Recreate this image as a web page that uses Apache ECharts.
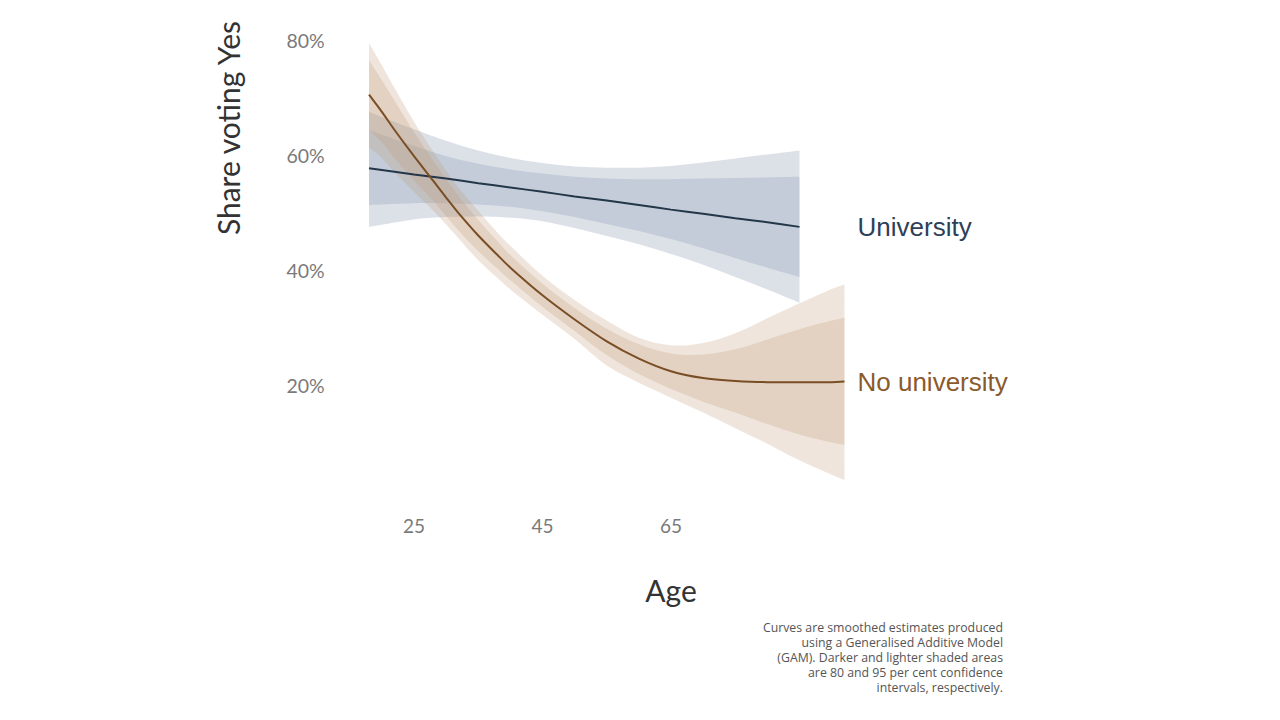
<!DOCTYPE html>
<html>
<head>
<meta charset="utf-8">
<script src="https://cdn.jsdelivr.net/npm/echarts@6/dist/echarts.min.js"></script>
<style>
html,body{margin:0;padding:0;background:#fff;}
#chart{width:1280px;height:720px;}
</style>
</head>
<body>
<div id="chart"></div>
<script>
// ---- data ----
const xTicks = [25, 45, 65];
const yTicks = [20, 40, 60, 80];

const uAge  = [18, 25, 30, 35, 40, 45, 50, 55, 60, 65, 70, 75, 80, 85];
const uFit  = [57.7, 56.6, 55.9, 55.1, 54.35, 53.6, 52.8, 52.1, 51.3, 50.5, 49.8, 49.0, 48.3, 47.5];
const uHi95 = [67.5, 64.5, 62.5, 60.8, 59.5, 58.6, 58.0, 57.8, 57.8, 58.1, 58.7, 59.4, 60.1, 60.8];
const uHi80 = [64.3, 61.6, 59.8, 58.5, 57.5, 56.8, 56.2, 55.9, 55.8, 55.8, 55.9, 56.0, 56.1, 56.2];
const uLo80 = [51.3, 51.6, 51.6, 51.4, 51.0, 50.2, 49.2, 48.0, 46.8, 45.4, 43.8, 42.1, 40.4, 38.8];
const uLo95 = [47.5, 48.8, 49.2, 49.3, 49.1, 48.5, 47.3, 45.9, 44.5, 42.8, 40.9, 38.8, 36.6, 34.3];

const nAge  = [18, 20, 22, 25, 28, 30, 32, 35, 38, 40, 45, 50, 55, 60, 65, 70, 75, 80, 85, 90, 92];
const nFit  = [70.5, 67.5, 64.3, 59.8, 55.5, 52.6, 49.8, 46.0, 42.6, 40.4, 35.6, 31.4, 27.6, 24.6, 22.4, 21.2, 20.7, 20.5, 20.5, 20.5, 20.6];
const nHi95 = [79.5, 75.6, 71.6, 65.8, 60.6, 57.3, 54.2, 50.3, 46.5, 44.2, 39.0, 34.8, 31.2, 28.2, 26.9, 27.3, 29.0, 31.6, 34.2, 36.7, 37.5];
const nHi80 = [76.5, 73.0, 69.4, 64.0, 59.0, 55.8, 52.8, 48.7, 45.0, 42.6, 37.6, 33.4, 29.8, 27.1, 25.5, 25.3, 26.2, 27.9, 29.7, 31.2, 31.7];
const nLo80 = [64.3, 62.2, 59.4, 55.6, 52.0, 49.4, 46.8, 43.3, 40.2, 38.2, 33.6, 29.4, 25.2, 21.9, 19.3, 17.1, 15.2, 13.2, 11.4, 10.0, 9.6];
const nLo95 = [61.3, 59.5, 57.0, 53.6, 50.3, 47.9, 45.4, 41.7, 38.6, 36.6, 32.2, 28.0, 23.4, 20.4, 17.8, 15.2, 12.5, 9.8, 6.9, 4.4, 3.5];

const footnote = 'Curves are smoothed estimates produced\nusing a Generalised Additive Model\n(GAM). Darker and lighter shaded areas\nare 80 and 95 per cent confidence\nintervals, respectively.';

// ---- helpers ----
function pairs(xs, ys) { return xs.map((x, i) => [x, ys[i]]); }

function smoothSeg(pts, start) {
  let d = (start ? 'M' : 'L') + pts[0][0] + ',' + pts[0][1];
  const n = pts.length;
  for (let i = 0; i < n - 1; i++) {
    const p0 = pts[Math.max(i - 1, 0)], p1 = pts[i], p2 = pts[i + 1], p3 = pts[Math.min(i + 2, n - 1)];
    const c1 = [p1[0] + (p2[0] - p0[0]) / 6, p1[1] + (p2[1] - p0[1]) / 6];
    const c2 = [p2[0] - (p3[0] - p1[0]) / 6, p2[1] - (p3[1] - p1[1]) / 6];
    d += 'C' + c1[0] + ',' + c1[1] + ' ' + c2[0] + ',' + c2[1] + ' ' + p2[0] + ',' + p2[1];
  }
  return d;
}

function bandSeries(name, ages, hi, lo, fill) {
  return {
    type: 'custom',
    name: name,
    silent: true,
    data: [[ages[0], lo[0]]],
    renderItem: function (params, api) {
      const top = ages.map((a, i) => api.coord([a, hi[i]]));
      const bot = ages.map((a, i) => api.coord([a, lo[i]])).reverse();
      const d = smoothSeg(top, true) + smoothSeg(bot, false) + 'Z';
      return { type: 'path', shape: { pathData: d }, style: { fill: fill } };
    }
  };
}

const blueFill = 'rgba(139,156,180,0.30)';
const brownFill = 'rgba(191,151,115,0.25)';

const chart = echarts.init(document.getElementById('chart'), null, { renderer: 'svg' });

chart.setOption({
  animation: false,
  backgroundColor: '#ffffff',
  grid: { left: 349.75, top: 40, width: 514, height: 460, containLabel: false },
  xAxis: {
    type: 'value', min: 15, max: 95, interval: 5,
    axisLine: { show: false }, axisTick: { show: false }, splitLine: { show: false },
    axisLabel: {
      margin: 16, color: '#7a7a7a', fontSize: 19, fontFamily: 'Lato',
      formatter: v => (xTicks.indexOf(v) >= 0 ? String(v) : '')
    }
  },
  yAxis: {
    type: 'value', min: 0, max: 80, interval: 20,
    axisLine: { show: false }, axisTick: { show: false }, splitLine: { show: false },
    axisLabel: {
      margin: 25, color: '#7a7a7a', fontSize: 19.5, fontFamily: 'Lato',
      formatter: v => (yTicks.indexOf(v) >= 0 ? v + '%' : '')
    }
  },
  series: [
    bandSeries('u95', uAge, uHi95, uLo95, blueFill),
    bandSeries('u80', uAge, uHi80, uLo80, blueFill),
    bandSeries('n95', nAge, nHi95, nLo95, brownFill),
    bandSeries('n80', nAge, nHi80, nLo80, brownFill),
    {
      type: 'line', name: 'University', data: pairs(uAge, uFit), smooth: 0.3,
      symbol: 'none', lineStyle: { color: '#24364a', width: 2 },
      endLabel: {
        show: true, formatter: 'University', distance: 0, offset: [58, 0],
        color: '#2d4058', fontSize: 26, fontFamily: 'Liberation Sans'
      }
    },
    {
      type: 'line', name: 'No university', data: pairs(nAge, nFit), smooth: 0.3,
      symbol: 'none', lineStyle: { color: '#7a4e24', width: 2 },
      endLabel: {
        show: true, formatter: 'No university', distance: 0, offset: [13, 0],
        color: '#8a5a2c', fontSize: 26, fontFamily: 'Liberation Sans'
      }
    }
  ],
  graphic: [
    {
      type: 'text', x: 228, y: 128, rotation: Math.PI / 2,
      style: { text: 'Share voting Yes', fill: '#333333', font: '30px Lato', align: 'center', verticalAlign: 'middle' }
    },
    {
      type: 'text', x: 671, y: 590,
      style: { text: 'Age', fill: '#333333', font: '30px Lato', align: 'center', verticalAlign: 'middle' }
    },
    {
      type: 'text', x: 1003, y: 620,
      style: { text: footnote, fill: '#555555', font: '12.3px "Open Sans"', align: 'right', verticalAlign: 'top', lineHeight: 15 }
    }
  ]
});
</script>
</body>
</html>
